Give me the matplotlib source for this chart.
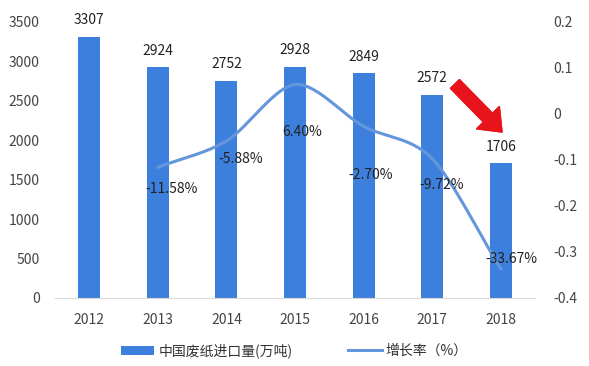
import matplotlib
matplotlib.use("Agg")
import matplotlib.pyplot as plt
import numpy as np
from matplotlib.lines import Line2D
from matplotlib.patches import Patch

plt.rcParams['font.family'] = ['Noto Sans CJK SC', 'DejaVu Sans']

years = ['2012', '2013', '2014', '2015', '2016', '2017', '2018']
imports = [3307, 2924, 2752, 2928, 2849, 2572, 1706]
growth = [None, -0.1158, -0.0588, 0.0640, -0.0270, -0.0972, -0.3367]
growth_labels = ['', '-11.58%', '-5.88%', '6.40%', '-2.70%', '-9.72%', '-33.67%']

bar_color = '#3D7FDC'
line_color = '#6496DC'
text_color = '#444444'
fs = 10

fig = plt.figure(figsize=(5.89, 3.66), dpi=100)
ax = fig.add_axes([0.0934, 0.186, 0.815, 0.754])
x = np.arange(len(years))
ax.bar(x, imports, width=0.32, color=bar_color, zorder=2)
ax.set_xlim(-0.5, 6.5)
ax.set_ylim(0, 3500)
ax.set_yticks(range(0, 3501, 500))
ax.set_xticks(x)
ax.set_xticklabels(years)
for s in ['top', 'right', 'left']:
    ax.spines[s].set_visible(False)
ax.spines['bottom'].set_color('#D9D9D9')
ax.tick_params(axis='both', length=0, labelsize=fs, colors=text_color)
ax.tick_params(axis='y', pad=11)
ax.tick_params(axis='x', pad=11)
for xi, v in zip(x, imports):
    ax.annotate(str(v), (xi, v), xytext=(0, 7), textcoords='offset points',
                ha='center', va='bottom', fontsize=fs, color='#222222')

ax2 = ax.twinx()
ax2.set_ylim(-0.4, 0.2)
ax2.set_yticks([0.2, 0.1, 0, -0.1, -0.2, -0.3, -0.4])
ax2.set_yticklabels(['0.2', '0.1', '0', '-0.1', '-0.2', '-0.3', '-0.4'])
for s in ['top', 'right', 'left', 'bottom']:
    ax2.spines[s].set_visible(False)
ax2.tick_params(axis='y', length=0, labelsize=fs, colors=text_color, pad=13)

# smooth curve (cardinal spline through the data points)
gx = np.array([i for i, g in enumerate(growth) if g is not None], dtype=float)
gy = np.array([g for g in growth if g is not None], dtype=float)
P = np.column_stack([gx, gy])
Pext = np.vstack([P[0] - (P[1] - P[0]), P, P[-1] + (P[-1] - P[-2])])
curve = []
t = np.linspace(0, 1, 30)
for i in range(1, len(Pext) - 2):
    p0, p1, p2, p3 = Pext[i - 1], Pext[i], Pext[i + 1], Pext[i + 2]
    m1 = (p2 - p0) / 2 * 0.9
    m2 = (p3 - p1) / 2 * 0.9
    h00 = 2 * t**3 - 3 * t**2 + 1
    h10 = t**3 - 2 * t**2 + t
    h01 = -2 * t**3 + 3 * t**2
    h11 = t**3 - t**2
    seg = (np.outer(h00, p1) + np.outer(h10, m1) + np.outer(h01, p2) + np.outer(h11, m2))
    curve.append(seg)
curve = np.vstack(curve)
ax2.plot(curve[:, 0], curve[:, 1], color=line_color, lw=2.2, zorder=3)

offsets = [None, (10, -16), (10, -13), (5, -34), (5, -35), (7, -19), (8, 7)]
for i, (g, lab) in enumerate(zip(growth, growth_labels)):
    if g is None:
        continue
    ax2.annotate(lab, (i, g), xytext=offsets[i], textcoords='offset points',
                 ha='center', va='center', fontsize=fs, color='#222222', zorder=4)

# red arrow (figure pixels, origin bottom-left)
fig.add_artist(plt.annotate('', xy=(502, 366 - 132), xytext=(455, 366 - 84),
                            xycoords='figure pixels', textcoords='figure pixels',
                            arrowprops=dict(arrowstyle='simple,head_width=1.9,head_length=1.2,tail_width=0.75',
                                            color='#E8141B', mutation_scale=12,
                                            shrinkA=0, shrinkB=0)))

handles = [Patch(facecolor=bar_color, label='中国废纸进口量(万吨)'),
           Line2D([0], [0], color=line_color, lw=2.2, label='增长率（%）')]
fig.legend(handles=handles, loc='center', bbox_to_anchor=(0.5, 0.042), ncol=2,
           frameon=False, fontsize=fs, handlelength=2.4, handleheight=0.6,
           handletextpad=0.3, columnspacing=4, labelcolor='#333333')

fig.savefig('out.png', dpi=100)
